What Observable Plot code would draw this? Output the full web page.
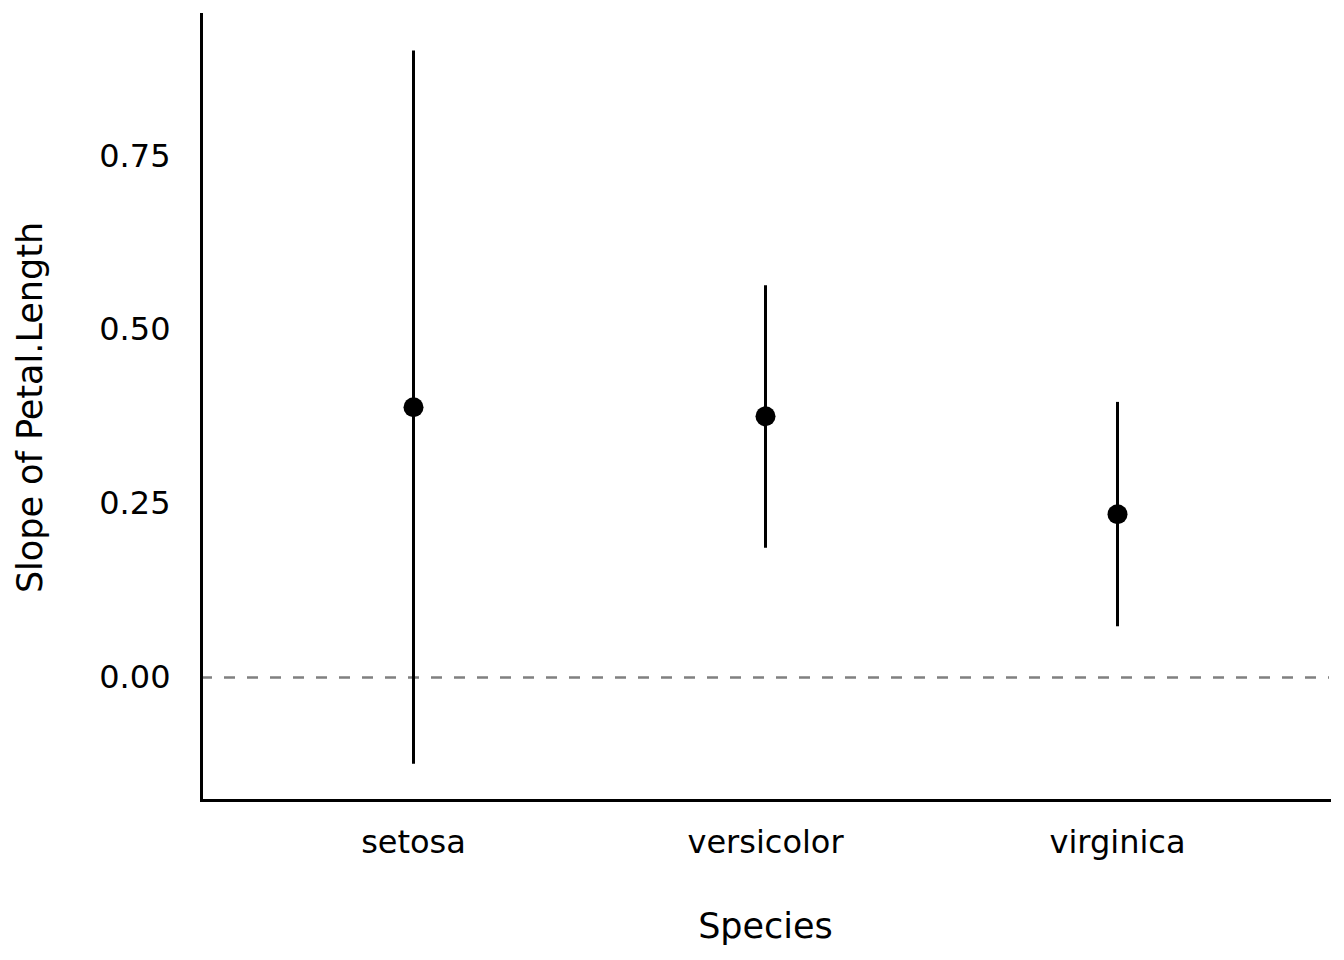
<!DOCTYPE html>
<html>
<head>
<meta charset="utf-8">
<script src="https://cdn.jsdelivr.net/npm/d3@7"></script>
<script src="https://cdn.jsdelivr.net/npm/@observablehq/plot@0.6"></script>
<style>
  html, body { margin: 0; padding: 0; background: #fff; }
  #chart { width: 1344px; height: 960px; }
</style>
</head>
<body>
<div id="chart"></div>
<script>
const species = ["setosa", "versicolor", "virginica"];
const slope = [0.389, 0.376, 0.235];
const ciLow = [-0.125, 0.186, 0.073];
const ciHigh = [0.902, 0.564, 0.396];
const yTicks = [0, 0.25, 0.5, 0.75];

const data = species.map((s, i) => ({species: s, slope: slope[i], low: ciLow[i], high: ciHigh[i]}));

const chart = Plot.plot({
  width: 1344,
  height: 960,
  marginLeft: 201,
  marginRight: 15,
  marginTop: 14,
  marginBottom: 160,
  style: {fontFamily: "DejaVu Sans", fontSize: "32px", color: "black", background: "white"},
  x: {type: "point", domain: species, padding: 0.6},
  y: {domain: [-0.1771, 0.9544]},
  marks: [
    Plot.ruleY([0], {stroke: "#808080", strokeWidth: 2.5, strokeDasharray: "11,12"}),
    Plot.ruleX(data, {x: "species", y1: "low", y2: "high", stroke: "black", strokeWidth: 3}),
    Plot.dot(data, {x: "species", y: "slope", r: 10, fill: "black", stroke: "none"}),
    Plot.axisY({ticks: yTicks, tickFormat: d3.format(".2f"), tickSize: 0, tickPadding: 31, label: null, fontSize: 32}),
    Plot.axisX({tickSize: 0, tickPadding: 30, label: null, fontSize: 32}),
    Plot.frame({anchor: "left", stroke: "black", strokeWidth: 3}),
    Plot.frame({anchor: "bottom", stroke: "black", strokeWidth: 3}),
    Plot.text(["Species"], {frameAnchor: "bottom", dy: 137, fontSize: 35, fill: "black"}),
    Plot.text(["Slope of Petal.Length"], {frameAnchor: "left", textAnchor: "middle", dx: -171, rotate: -90, fontSize: 35, fill: "black"})
  ]
});
document.getElementById("chart").appendChild(chart);
</script>
</body>
</html>
